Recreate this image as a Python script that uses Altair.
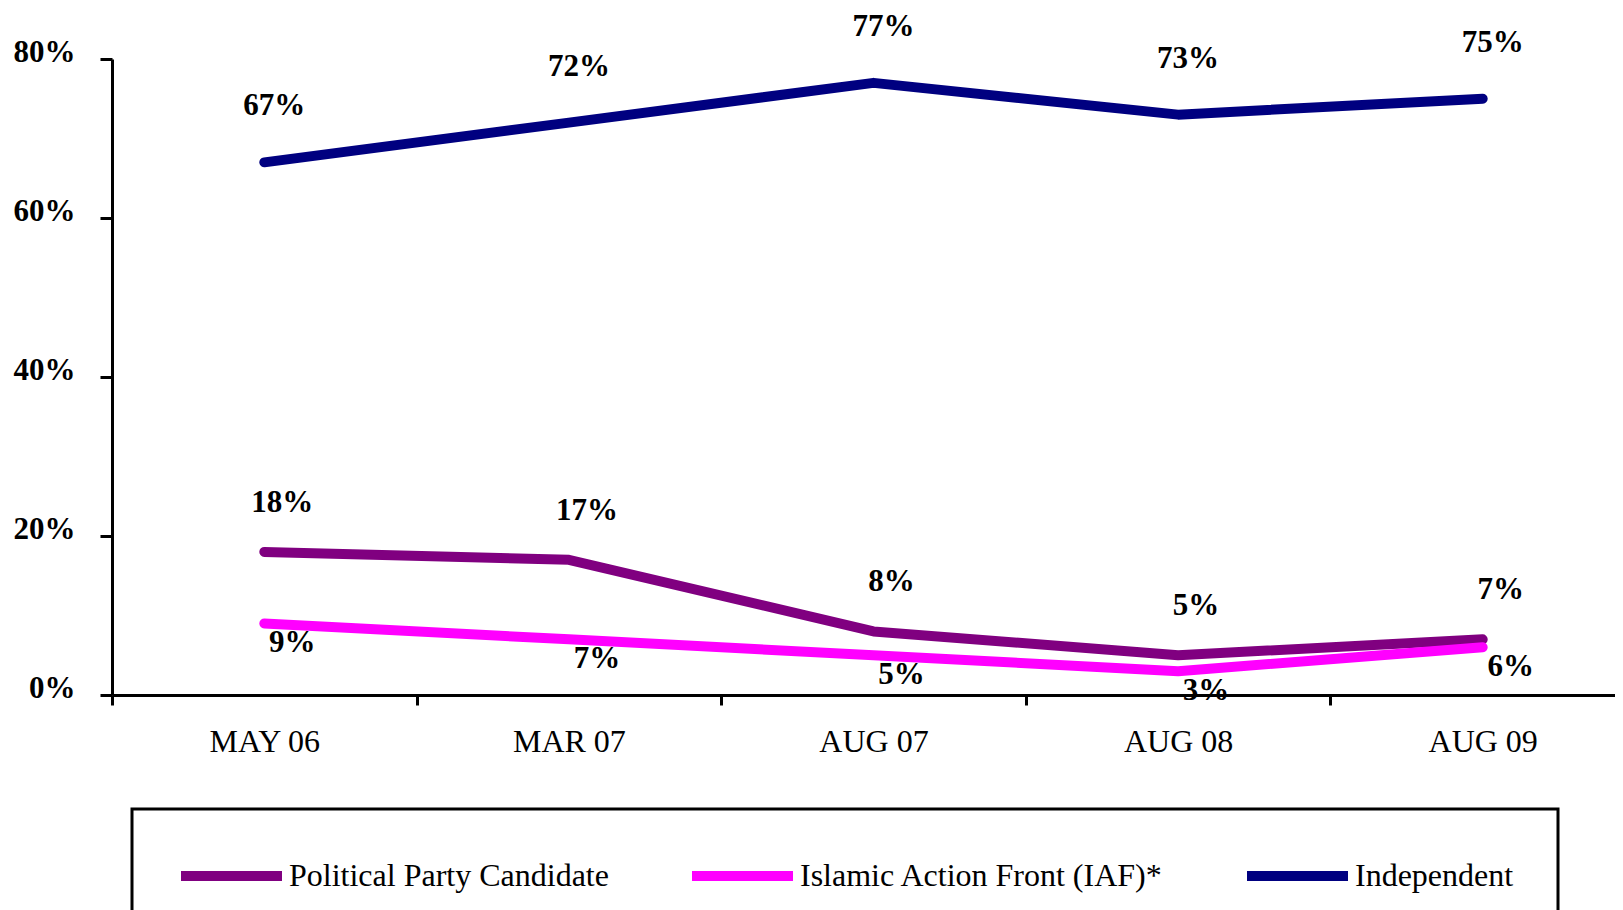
import altair as alt
import pandas as pd

dates = ["MAY 06", "MAR 07", "AUG 07", "AUG 08", "AUG 09"]
series_names = ["Political Party Candidate", "Islamic Action Front (IAF)*", "Independent"]
party = [18, 17, 8, 5, 7]
iaf = [9, 7, 5, 3, 6]
independent = [67, 72, 77, 73, 75]
colors = ["#800080", "#FF00FF", "#000080"]
y_ticks = [0, 0.2, 0.4, 0.6, 0.8]

rows = []
for name, vals in zip(series_names, [party, iaf, independent]):
    for d, v in zip(dates, vals):
        rows.append({"date": d, "series": name, "value": v / 100})
df = pd.DataFrame(rows)

FONT = "Liberation Serif"

x_enc = alt.X(
    "date:N",
    sort=dates,
    scale=alt.Scale(domain=dates, range=[0, 1523], paddingInner=0, paddingOuter=0),
    axis=alt.Axis(
        title=None, labelAngle=0, tickBand="extent",
        labelFont=FONT, labelFontSize=32, labelFontWeight="normal", labelColor="black",
        tickSize=10, tickWidth=3, tickColor="black", domainColor="black", domainWidth=3,
        labelPadding=21, grid=False,
    ),
)
y_enc = alt.Y(
    "value:Q",
    scale=alt.Scale(domain=[0, 0.8], nice=False, zero=True),
    axis=alt.Axis(
        values=y_ticks, format=".0%", title=None, grid=False,
        labelFont=FONT, labelFontWeight="bold", labelFontSize=31, labelColor="black",
        tickSize=12, tickWidth=3, tickColor="black", domainColor="black", domainWidth=3,
        labelPadding=25, labelOffset=-7, labelBaseline="middle",
    ),
)

lines = alt.Chart(df).mark_line(strokeWidth=10, strokeCap="round", strokeJoin="round").encode(
    x=x_enc,
    y=y_enc,
    color=alt.Color(
        "series:N",
        scale=alt.Scale(domain=series_names, range=colors),
        sort=series_names,
        legend=alt.Legend(
            title=None, orient="none", legendX=20, legendY=750, direction="horizontal",
            symbolType="stroke", symbolSize=10201, symbolStrokeWidth=10,
            labelFont=FONT, labelFontSize=32, labelColor="black", labelOffset=2,
            labelLimit=0, columnPadding=78, padding=44, strokeColor="black",
            clipHeight=46,
        ),
    ),
    detail="series:N",
)

offsets = {
    "Independent": (10, -56),
    "Political Party Candidate": (18, -49),
    "Islamic Action Front (IAF)*": (28, 20),
}

layers = [lines]
for name in series_names:
    dx, dy = offsets[name]
    layers.append(
        alt.Chart(df).transform_filter(alt.datum.series == name).mark_text(
            font=FONT, fontSize=31, fontWeight="bold", color="black", dx=dx, dy=dy, baseline="middle"
        ).encode(x=x_enc, y=y_enc, text=alt.Text("value:Q", format=".0%"))
    )

chart = alt.layer(*layers).properties(
    width=1503,
    height=636,
    autosize=alt.AutoSizeParams(type="none"),
    padding={"left": 104, "top": 51, "right": 0, "bottom": 215},
    background="white",
).configure_view(stroke=None).configure_legend(strokeWidth=3)

chart.save("out.html", embed_options={"renderer": "svg", "actions": False})
